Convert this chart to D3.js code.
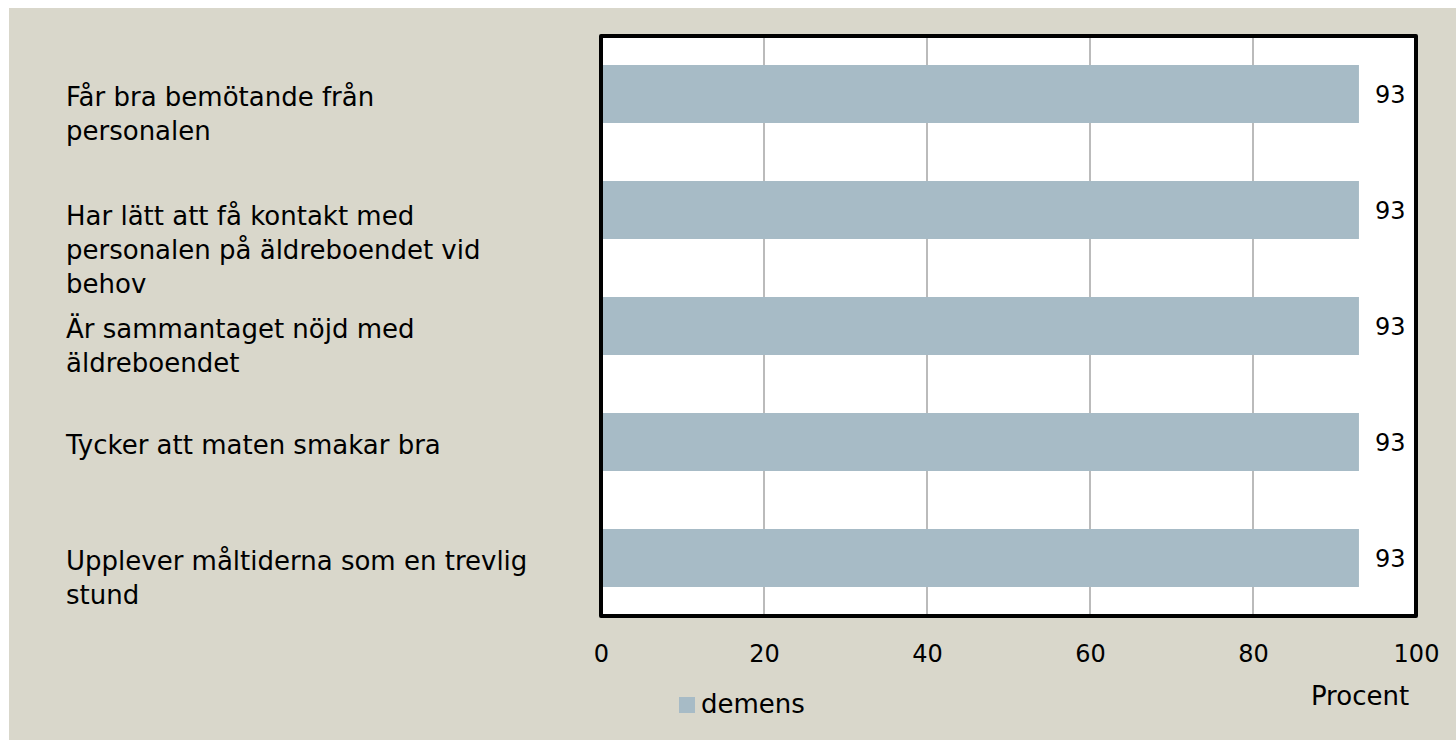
<!DOCTYPE html>
<html>
<head>
<meta charset="utf-8">
<script src="https://cdn.jsdelivr.net/npm/d3@7"></script>
<style>
  html, body { margin: 0; padding: 0; background: #ffffff; }
  svg { display: block; }
  text { font-family: "DejaVu Sans", sans-serif; fill: #000; }
</style>
</head>
<body>
<svg id="chart" width="1456" height="740"></svg>
<script>
const categories = [
  "Får bra bemötande från\npersonalen",
  "Har lätt att få kontakt med\npersonalen på äldreboendet vid\nbehov",
  "Är sammantaget nöjd med\näldreboendet",
  "Tycker att maten smakar bra",
  "Upplever måltiderna som en trevlig\nstund"
];
const seriesName = "demens";
const values = [93, 93, 93, 93, 93];
const xTicks = [0, 20, 40, 60, 80, 100];
const xTitle = "Procent";

const svg = d3.select("#chart");
const W = 1456, H = 740;
const plot = { left: 601, right: 1416, top: 36, bottom: 616 };
const barColor = "#a7bbc6";
const bgColor = "#d9d7cb";

svg.append("rect").attr("x", 9).attr("y", 8).attr("width", W - 9).attr("height", H - 8).attr("fill", bgColor);

const x = d3.scaleLinear().domain([0, 100]).range([plot.left, plot.right]);
const y = d3.scaleBand().domain(categories).range([plot.top, plot.bottom]).paddingInner(0.5).paddingOuter(0.25);

// plot background
svg.append("rect")
  .attr("x", plot.left).attr("y", plot.top)
  .attr("width", plot.right - plot.left).attr("height", plot.bottom - plot.top)
  .attr("fill", "#ffffff");

// gridlines
svg.append("g").selectAll("line")
  .data(xTicks.filter(t => t > 0 && t < 100))
  .join("line")
  .attr("x1", d => x(d)).attr("x2", d => x(d))
  .attr("y1", plot.top).attr("y2", plot.bottom)
  .attr("stroke", "#8e8e8e").attr("stroke-width", 1.2);

// bars
svg.append("g").selectAll("rect")
  .data(categories)
  .join("rect")
  .attr("x", x(0))
  .attr("y", d => y(d))
  .attr("width", (d, i) => x(values[i]) - x(0))
  .attr("height", y.bandwidth())
  .attr("fill", barColor);

// value labels
svg.append("g").selectAll("text")
  .data(categories)
  .join("text")
  .attr("x", (d, i) => x(values[i]) + 16)
  .attr("y", d => y(d) + y.bandwidth() / 2 + 9)
  .attr("font-size", 24)
  .text((d, i) => values[i]);

// frame
svg.append("rect")
  .attr("x", plot.left).attr("y", plot.top)
  .attr("width", plot.right - plot.left).attr("height", plot.bottom - plot.top)
  .attr("fill", "none").attr("stroke", "#000").attr("stroke-width", 4)
  .attr("stroke-linejoin", "round");

// x axis tick labels
const xAxis = d3.axisBottom(x).tickValues(xTicks).tickSize(0).tickPadding(0).tickFormat(d3.format("d"));
const gx = svg.append("g").attr("transform", `translate(0,${plot.bottom})`).call(xAxis);
gx.select(".domain").remove();
gx.selectAll("text")
  .attr("font-family", "DejaVu Sans, sans-serif")
  .attr("font-size", 24)
  .attr("fill", "#000")
  .attr("dy", null)
  .attr("y", 46);

// category labels
const lineH = 34;
const catG = svg.append("g");
categories.forEach((c, i) => {
  const lines = c.split("\n");
  const cy = y(c) + y.bandwidth() / 2;
  const base = cy + 12 + (lines.length > 2 ? 3 : 0);
  const t = catG.append("text").attr("font-size", 26);
  lines.forEach((ln, j) => {
    t.append("tspan").attr("x", 66).attr("y", base + j * lineH).text(ln);
  });
});

// x axis title
svg.append("text").attr("x", 1360).attr("y", 705)
  .attr("text-anchor", "middle").attr("font-size", 26).text(xTitle);

// legend
svg.append("rect").attr("x", 679).attr("y", 697).attr("width", 16).attr("height", 16).attr("fill", barColor);
svg.append("text").attr("x", 701).attr("y", 713).attr("font-size", 26).text(seriesName);
</script>
</body>
</html>
